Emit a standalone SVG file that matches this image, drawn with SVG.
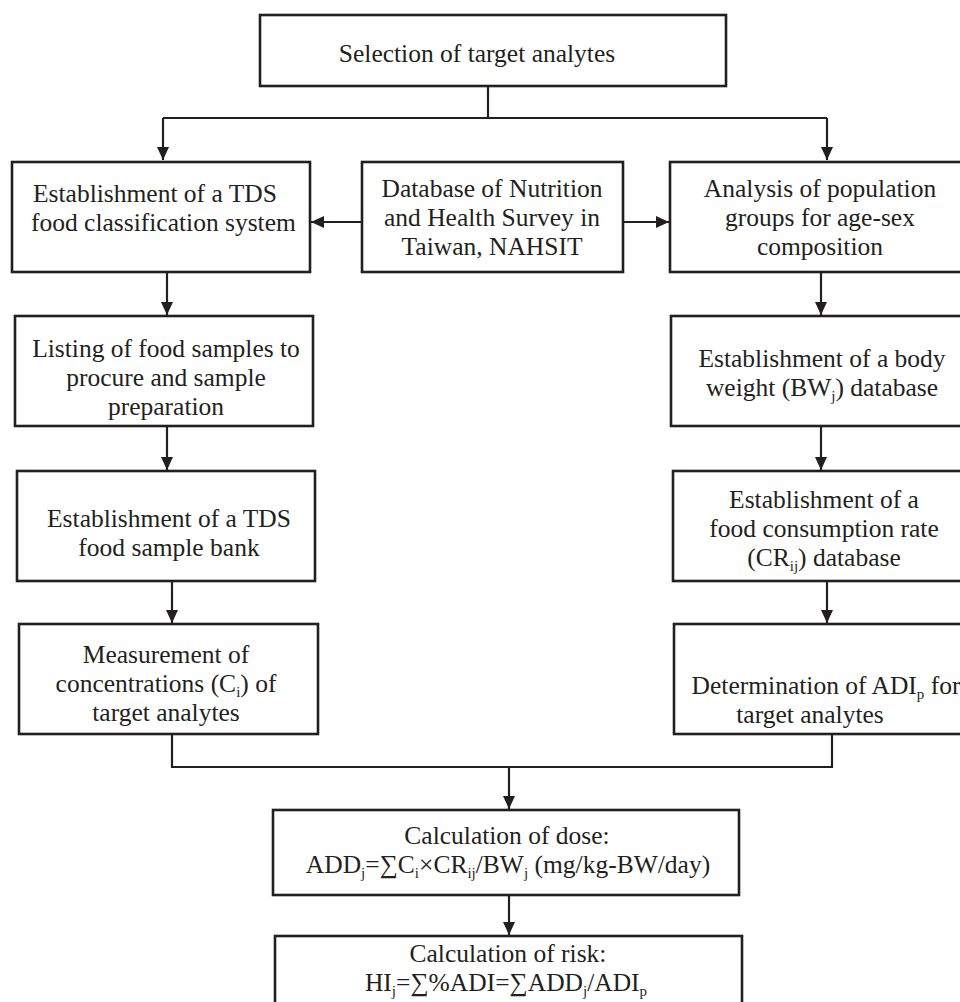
<svg xmlns="http://www.w3.org/2000/svg" width="960" height="1002" viewBox="0 0 960 1002">
<style>
.box{fill:#fff;stroke:#231f20;stroke-width:2.6}
.t{font-family:"Liberation Serif","Times New Roman",serif;font-size:25.5px;fill:#231f20;text-anchor:middle}
.l{text-anchor:start}
.s{font-size:15px}
.c{fill:none;stroke:#231f20;stroke-width:2.2}
</style>
<defs>
<marker id="ah" markerUnits="userSpaceOnUse" markerWidth="14" markerHeight="16" refX="13" refY="6" orient="auto">
<path d="M0,0 L13,6 L0,12 Z" fill="#231f20"/>
</marker>
</defs>
<rect width="960" height="1002" fill="#fff"/>
<g id="connectors">
<path class="c" d="M488,86 V118 M163,118 H827"/>
<path class="c" d="M163,118 V160" marker-end="url(#ah)"/>
<path class="c" d="M827,118 V160" marker-end="url(#ah)"/>
<path class="c" d="M362,222 H311" marker-end="url(#ah)"/>
<path class="c" d="M623,222 H669" marker-end="url(#ah)"/>
<path class="c" d="M167,272 V315" marker-end="url(#ah)"/>
<path class="c" d="M167,426 V470" marker-end="url(#ah)"/>
<path class="c" d="M172,581 V623" marker-end="url(#ah)"/>
<path class="c" d="M821,272 V315" marker-end="url(#ah)"/>
<path class="c" d="M821,426 V470" marker-end="url(#ah)"/>
<path class="c" d="M827,581 V623" marker-end="url(#ah)"/>
<path class="c" d="M172,734 V767 H832 V734"/>
<path class="c" d="M509,767 V809" marker-end="url(#ah)"/>
<path class="c" d="M509,895 V935" marker-end="url(#ah)"/>
</g>
<g id="n-selection">
<rect class="box" x="260" y="15" width="466" height="71"/>
<text class="t" x="477" y="62">Selection of target analytes</text>
</g>
<g id="n-classification">
<rect class="box" x="12" y="162" width="298" height="110"/>
<text class="t l" x="33" y="202">Establishment of a TDS</text>
<text class="t l" x="31" y="231">food classification system</text>
</g>
<g id="n-database">
<rect class="box" x="362" y="162" width="261" height="110"/>
<text class="t" x="492" y="197">Database of Nutrition</text>
<text class="t" x="492" y="226">and Health Survey in</text>
<text class="t" x="492" y="255">Taiwan, NAHSIT</text>
</g>
<g id="n-analysis">
<rect class="box" x="670" y="162" width="300" height="110"/>
<text class="t" x="820" y="197">Analysis of population</text>
<text class="t" x="820" y="226">groups for age-sex</text>
<text class="t" x="820" y="255">composition</text>
</g>
<g id="n-listing">
<rect class="box" x="15" y="316" width="298" height="110"/>
<text class="t" x="166" y="357">Listing of food samples to</text>
<text class="t" x="166" y="386">procure and sample</text>
<text class="t" x="166" y="415">preparation</text>
</g>
<g id="n-bodyweight">
<rect class="box" x="671" y="316" width="300" height="110"/>
<text class="t" x="822" y="367">Establishment of a body</text>
<text class="t" x="822" y="396">weight (BW<tspan class="s" dy="5">j</tspan><tspan dy="-5">) database</tspan></text>
</g>
<g id="n-bank">
<rect class="box" x="17" y="471" width="298" height="110"/>
<text class="t" x="169" y="527">Establishment of a TDS</text>
<text class="t" x="169" y="556">food sample bank</text>
</g>
<g id="n-consumption">
<rect class="box" x="673" y="471" width="300" height="110"/>
<text class="t" x="824" y="508">Establishment of a</text>
<text class="t" x="824" y="537">food consumption rate</text>
<text class="t" x="824" y="566">(CR<tspan class="s" dy="5">ij</tspan><tspan dy="-5">) database</tspan></text>
</g>
<g id="n-measurement">
<rect class="box" x="19" y="624" width="299" height="110"/>
<text class="t" x="166" y="663">Measurement of</text>
<text class="t" x="166" y="692">concentrations (C<tspan class="s" dy="5">i</tspan><tspan dy="-5">) of</tspan></text>
<text class="t" x="166" y="721">target analytes</text>
</g>
<g id="n-adi">
<rect class="box" x="674" y="624" width="300" height="110"/>
<text class="t" x="826" y="694">Determination of ADI<tspan class="s" dy="5">p</tspan><tspan dy="-5"> for</tspan></text>
<text class="t" x="810" y="723">target analytes</text>
</g>
<g id="n-dose">
<rect class="box" x="273" y="810" width="466" height="85"/>
<text class="t" x="507" y="844">Calculation of dose:</text>
<text class="t" x="508" y="873">ADD<tspan class="s" dy="5">j</tspan><tspan dy="-5">=∑C</tspan><tspan class="s" dy="5">i</tspan><tspan dy="-5">×CR</tspan><tspan class="s" dy="5">ij</tspan><tspan dy="-5">/BW</tspan><tspan class="s" dy="5">j</tspan><tspan dy="-5"> (mg/kg-BW/day)</tspan></text>
</g>
<g id="n-risk">
<rect class="box" x="275" y="936" width="467" height="80"/>
<text class="t" x="508" y="962">Calculation of risk:</text>
<text class="t" x="506" y="991">HI<tspan class="s" dy="5">j</tspan><tspan dy="-5">=∑%ADI=∑ADD</tspan><tspan class="s" dy="5">j</tspan><tspan dy="-5">/ADI</tspan><tspan class="s" dy="5">p</tspan></text>
</g>
</svg>
